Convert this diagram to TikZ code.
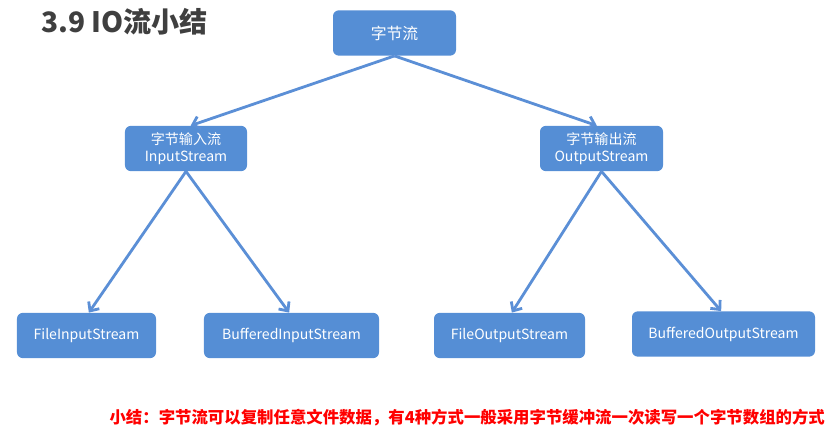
\documentclass[tikz,border=0pt]{standalone}
\usepackage{fontspec}
\usepackage{xcolor}
\usepackage{tikz}
\usetikzlibrary{arrows.meta,positioning}
\newfontfamily\cjk{Noto Sans CJK SC}
\definecolor{ioblue}{HTML}{558ED5}
\definecolor{iolink}{HTML}{5B8FD6}
\definecolor{iotitle}{HTML}{3F3F3F}
\definecolor{iored}{HTML}{FF0000}

\begin{document}
\begin{tikzpicture}[
 x=0.03cm,y=-0.03cm,font=\cjk,
 box/.style={fill=ioblue,text=white,rounded corners=5pt,align=center,
   minimum height=1.36cm,inner sep=2pt,font=\cjk\fontsize{12}{15}\selectfont},
 flow/.style={-{Straight Barb[length=6pt,width=11pt]},line width=2.4pt,iolink}
]
\useasboundingbox (0,0) rectangle (831,433);
\node[anchor=west,text=iotitle,font=\cjk\bfseries\fontsize{24}{28}\selectfont] (title) at (37,22) {3.9 IO流小结};
% root
\node[box,minimum width=3.69cm,font=\cjk\fontsize{13.5}{16}\selectfont] (bytes) at (394.5,33) {字节流};
% second level
\node[box,minimum width=3.66cm] (input) at (186,148.5) {字节输入流\\InputStream};
\node[box,minimum width=3.69cm] (output) at (601.5,148.5) {字节输出流\\OutputStream};
% leaves
\node[box,minimum width=4.17cm] (fin) at (86.5,335.5) {FileInputStream};
\node[box,minimum width=5.25cm] (bin) at (291.5,335.5) {BufferedInputStream};
\node[box,minimum width=4.53cm] (fout) at (509.5,335.5) {FileOutputStream};
\node[box,minimum width=5.49cm] (bout) at (723.5,334) {BufferedOutputStream};
\draw[flow] (bytes.south) -- ([xshift=4]input.north);
\draw[flow] (bytes.south) -- ([xshift=-4]output.north);
\draw[flow] (input.south) -- ([xshift=2]fin.north);
\draw[flow] (input.south) -- ([xshift=-2]bin.north);
\draw[flow] (output.south) -- ([xshift=2]fout.north);
\draw[flow] (output.south) -- ([xshift=-2]bout.north);
\node[anchor=east,text=iored,font=\cjk\bfseries\fontsize{14}{16}\selectfont] (summary) at (829,418)
 {小结：字节流可以复制任意文件数据，有4种方式一般采用字节缓冲流一次读写一个字节数组的方式};
\end{tikzpicture}
\end{document}
